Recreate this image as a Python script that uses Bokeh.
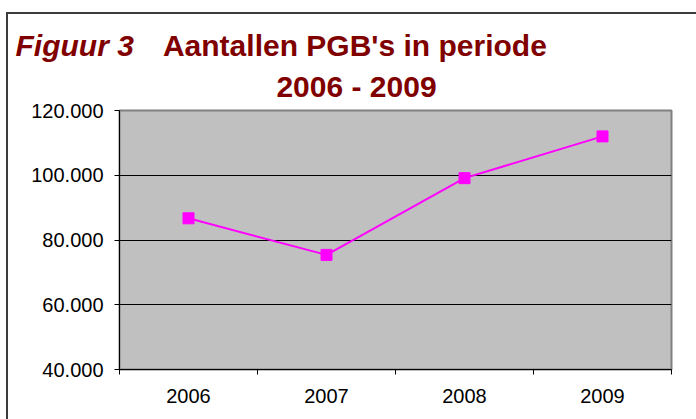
from bokeh.plotting import figure
from bokeh.models import FixedTicker, CustomJSTickFormatter, Range1d
from bokeh.core.properties import value
from bokeh.embed import file_html
from bokeh.resources import INLINE

years = ["2006", "2007", "2008", "2009"]
aantallen = [86700, 75400, 99100, 112000]
y_ticks = [40000, 60000, 80000, 100000, 120000]
grid_ticks = [60000, 80000, 100000]
title_parts = ["Figuur 3", "Aantallen PGB's in periode", "2006 - 2009"]

xpos = [i + 0.5 for i in range(len(years))]

BORDER = 2
CW = 688                   # canvas width
TCH = 85                   # title strip canvas height
PH = 320                   # chart canvas height
FL, FT, FB, FR = 111, 11, 50, 27   # frame left / top / bottom / right borders
frame_css = "2px solid #3c3c3c"

# ---- title strip ----
t = figure(width=CW + BORDER, height=TCH + BORDER, output_backend="svg", toolbar_location=None,
           title=None, x_range=Range1d(0, CW), y_range=Range1d(TCH, 0),
           x_axis_location=None, y_axis_location=None, min_border=0)
t.outline_line_color = None
t.background_fill_color = "white"
t.border_fill_color = "white"
t.xgrid.visible = False
t.ygrid.visible = False
title_color = "#800000"
tc = dict(text_font=value("Liberation Sans"), text_font_size="30px",
          text_color=title_color, text_baseline="alphabetic")
t.text(x=[7], y=[30.5], text=[title_parts[0]], text_font_style="bold italic", **tc)
t.text(x=[154], y=[30.5], text=[title_parts[1]], text_font_style="bold", **tc)
t.text(x=[347], y=[70.5], text=[title_parts[2]], text_font_style="bold", text_align="center", **tc)
t.styles = {"margin-left": "6px", "margin-top": "12px",
            "border-left": frame_css, "border-top": frame_css}

# ---- chart ----
p = figure(width=CW + BORDER, height=PH, output_backend="svg", toolbar_location=None,
           title=None, x_range=Range1d(0, len(years)), y_range=Range1d(40000, 120000),
           min_border_left=FL, min_border_right=FR, min_border_top=FT, min_border_bottom=FB)
p.background_fill_color = "#c0c0c0"
p.border_fill_color = "white"
p.outline_line_color = "#808080"
p.outline_line_width = 2

p.line(xpos, aantallen, line_color="#ff00ff", line_width=2)
p.scatter(xpos, aantallen, marker="square", size=11, fill_color="#ff00ff", line_color="#ff00ff")

p.xaxis.ticker = FixedTicker(ticks=xpos, minor_ticks=list(range(len(years) + 1)))
p.xaxis.major_label_overrides = {x: y for x, y in zip(xpos, years)}
p.xaxis.major_tick_out = 0
p.xaxis.major_tick_in = 0
p.xaxis.minor_tick_out = 5
p.xaxis.minor_tick_in = 0
p.xaxis.minor_tick_line_color = "black"
p.yaxis.ticker = FixedTicker(ticks=y_ticks, minor_ticks=[])
p.yaxis.formatter = CustomJSTickFormatter(
    code="return Math.round(tick).toString().replace(/\\B(?=(\\d{3})+(?!\\d))/g, '.');")
p.yaxis.major_tick_out = 5
p.yaxis.major_tick_in = 0
for ax in (p.xaxis[0], p.yaxis[0]):
    ax.axis_line_color = "black"
    ax.major_tick_line_color = "black"
    ax.major_label_text_font = "Liberation Sans"
    ax.major_label_text_font_size = "20px"
    ax.major_label_text_color = "black"
p.xaxis.major_label_standoff = 14
p.yaxis.major_label_standoff = 11

p.xgrid.visible = False
p.ygrid.ticker = FixedTicker(ticks=grid_ticks)
p.ygrid.grid_line_color = "black"
p.ygrid.grid_line_width = 1
p.styles = {"margin-left": "6px", "border-left": frame_css}

open("out.html", "w").write(file_html([t, p], INLINE))
